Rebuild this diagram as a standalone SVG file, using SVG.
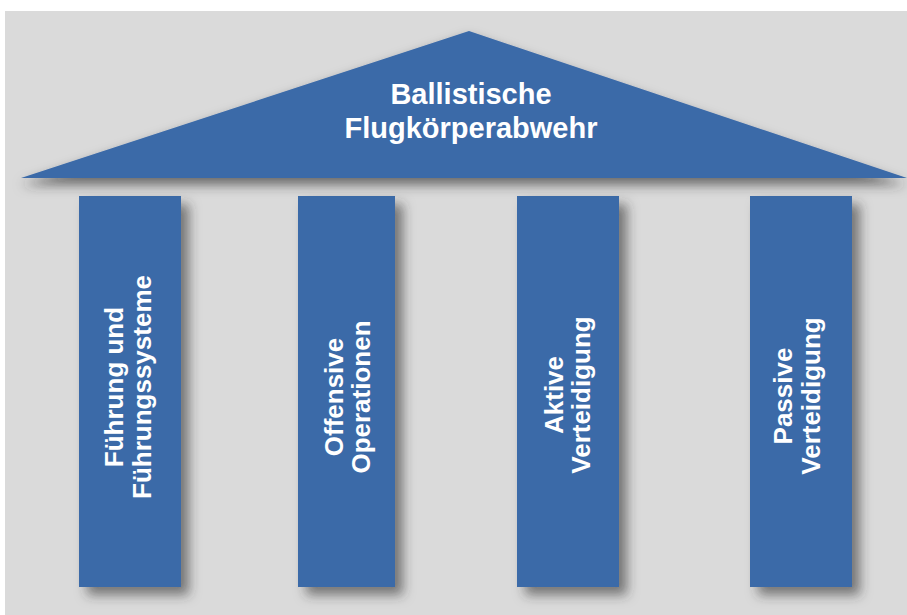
<svg xmlns="http://www.w3.org/2000/svg" width="907" height="615" viewBox="0 0 907 615">
  <defs>
    <filter id="sh" x="-30%" y="-30%" width="160%" height="160%">
      <feDropShadow dx="8" dy="8" stdDeviation="6" flood-color="#333" flood-opacity="0.6"/>
    </filter>
    <filter id="shRoof" x="-10%" y="-20%" width="120%" height="160%">
      <feDropShadow dx="0" dy="7" stdDeviation="6" flood-color="#333" flood-opacity="0.65"/>
    </filter>
  </defs>
  <style>
    .blk { fill: #3b6aa8; }
    .lbl { fill: #ffffff; font-family: "Liberation Sans", Arial, sans-serif; font-weight: bold; text-anchor: middle; }
    .title { font-size: 29px; }
    .pl { font-size: 26px; }
  </style>
  <rect x="0" y="0" width="907" height="615" fill="#ffffff"/>
  <rect x="5" y="11" width="902" height="604" fill="#dadada"/>

  <g id="pillar-1">
    <rect class="blk" x="79" y="196" width="102" height="391" filter="url(#sh)"/>
    <text class="lbl pl" transform="translate(123,387) rotate(-90)">Führung und</text>
    <text class="lbl pl" transform="translate(151,387) rotate(-90)">Führungssysteme</text>
  </g>
  <g id="pillar-2">
    <rect class="blk" x="298" y="196" width="97" height="391" filter="url(#sh)"/>
    <text class="lbl pl" transform="translate(343,397) rotate(-90)">Offensive</text>
    <text class="lbl pl" transform="translate(370,397) rotate(-90)">Operationen</text>
  </g>
  <g id="pillar-3">
    <rect class="blk" x="517" y="196" width="102" height="391" filter="url(#sh)"/>
    <text class="lbl pl" transform="translate(563,395) rotate(-90)">Aktive</text>
    <text class="lbl pl" transform="translate(590,395) rotate(-90)">Verteidigung</text>
  </g>
  <g id="pillar-4">
    <rect class="blk" x="750" y="196" width="102" height="391" filter="url(#sh)"/>
    <text class="lbl pl" transform="translate(792,396) rotate(-90)">Passive</text>
    <text class="lbl pl" transform="translate(820,396) rotate(-90)">Verteidigung</text>
  </g>

  <g id="roof">
    <polygon class="blk" points="21,178 469,31 907,178" filter="url(#shRoof)"/>
    <text class="lbl title" x="471" y="104">Ballistische</text>
    <text class="lbl title" x="471" y="138">Flugkörperabwehr</text>
  </g>

  <g id="connectors"></g>
</svg>
